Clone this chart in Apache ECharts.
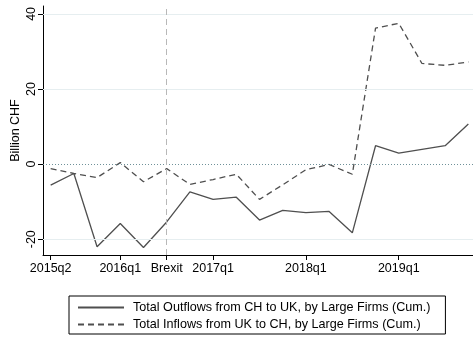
<!DOCTYPE html>
<html>
<head>
<meta charset="utf-8">
<script src="https://cdn.jsdelivr.net/npm/echarts@6/dist/echarts.min.js"></script>
<style>
  html, body { margin: 0; padding: 0; background: #ffffff; }
  #chart { width: 473px; height: 338px; }
</style>
</head>
<body>
<div id="chart"></div>
<script>
// Quarterly cumulative flows between Switzerland and the UK (billion CHF)
const quarters = ['2015q2','2015q3','2015q4','2016q1','2016q2','2016q3','2016q4',
                  '2017q1','2017q2','2017q3','2017q4','2018q1','2018q2','2018q3',
                  '2018q4','2019q1','2019q2','2019q3','2019q4'];
const outflows = [-5.6, -2.5, -22.0, -15.8, -22.2, -15.4, -7.4, -9.4, -8.8, -14.9,
                  -12.3, -12.9, -12.6, -18.3, 4.9, 2.9, 3.9, 4.9, 10.7];
const inflows  = [-1.2, -2.5, -3.6, 0.4, -4.7, -1.2, -5.4, -4.1, -2.7, -9.4,
                  -5.5, -1.5, -0.1, -2.7, 36.2, 37.5, 26.8, 26.3, 27.2];

// Labelled x positions; the referendum quarter is shown as "Brexit"
const tickQuarters = ['2015q2','2016q1','2016q3','2017q1','2018q1','2019q1'];
const tickTexts    = ['2015q2','2016q1','Brexit','2017q1','2018q1','2019q1'];
const brexitQuarter = '2016q3';
const yTicks = [-20, 0, 20, 40];
const gridValues = [-20, 20, 40];

const seriesNames = ['Total Outflows from CH to UK, by Large Firms (Cum.)',
                     'Total Inflows from UK to CH, by Large Firms (Cum.)'];

const tickPos = tickQuarters.map(q => quarters.indexOf(q));
const labelFor = {};
tickPos.forEach((p, i) => { labelFor[p] = tickTexts[i]; });

const font = 'Liberation Sans, Arial, Helvetica, sans-serif';
const lineColor = '#4f4f4f';

const chart = echarts.init(document.getElementById('chart'), null, { renderer: 'canvas' });
chart.setOption({
  backgroundColor: '#ffffff',
  animation: false,
  textStyle: { fontFamily: font },
  grid: { left: 43, right: 0, top: 6, bottom: 83, containLabel: false, outerBoundsMode: 'none' },
  xAxis: {
    type: 'value',
    min: -0.33,
    max: 18.2,
    axisLine: { show: true, onZero: false, lineStyle: { color: '#000', width: 1 } },
    axisTick: { show: true, length: 5, customValues: tickPos, lineStyle: { color: '#000' } },
    axisLabel: {
      customValues: tickPos,
      formatter: v => labelFor[Math.round(v)] || '',
      color: '#000', fontSize: 12.5, fontFamily: font, margin: 7
    },
    splitLine: { show: false }
  },
  yAxis: {
    type: 'value',
    min: -24.2,
    max: 42.1,
    name: 'Billion CHF',
    nameLocation: 'middle',
    nameGap: 21,
    nameMoveOverlap: false,
    nameRotate: 90,
    nameTextStyle: { color: '#000', fontSize: 12.5, fontFamily: font },
    axisLine: { show: true, onZero: false, lineStyle: { color: '#000', width: 1 } },
    axisTick: { show: true, length: 5, customValues: yTicks, lineStyle: { color: '#000' } },
    axisLabel: {
      customValues: yTicks,
      rotate: 90,
      color: '#000', fontSize: 12.5, fontFamily: font, margin: 5
    },
    splitLine: { show: false }
  },
  legend: {
    orient: 'vertical',
    left: 69,
    top: 296,
    padding: [5, 15, 3, 8],
    itemGap: 4,
    itemWidth: 46,
    itemHeight: 14,
    borderColor: '#000',
    borderWidth: 1,
    itemStyle: { opacity: 0 },
    textStyle: { color: '#000', fontSize: 12.6, fontFamily: font, padding: [0, 0, 0, 4] },
    data: seriesNames
  },
  series: [
    {
      name: 'reference lines',
      type: 'line',
      data: [],
      silent: true,
      markLine: {
        silent: true,
        symbol: 'none',
        label: { show: false },
        animation: false,
        data: [
          ...gridValues.map(v => ({ yAxis: v, lineStyle: { color: '#e6eef0', width: 1, type: 'solid' } })),
          { yAxis: 0, lineStyle: { color: '#6f9199', width: 1, type: [1, 2] } },
          { xAxis: quarters.indexOf(brexitQuarter), lineStyle: { color: '#b8b8b8', width: 1, type: [6, 4] } }
        ]
      }
    },
    {
      name: seriesNames[0],
      type: 'line',
      data: quarters.map((q, i) => [i, outflows[i]]),
      symbol: 'none',
      showSymbol: false,
      lineStyle: { color: lineColor, width: 1.3, type: 'solid' },
      itemStyle: { color: lineColor },
      z: 3
    },
    {
      name: seriesNames[1],
      type: 'line',
      data: quarters.map((q, i) => [i, inflows[i]]),
      symbol: 'none',
      showSymbol: false,
      lineStyle: { color: lineColor, width: 1.3, type: [6, 4] },
      itemStyle: { color: lineColor },
      z: 3
    }
  ]
});
</script>
</body>
</html>
